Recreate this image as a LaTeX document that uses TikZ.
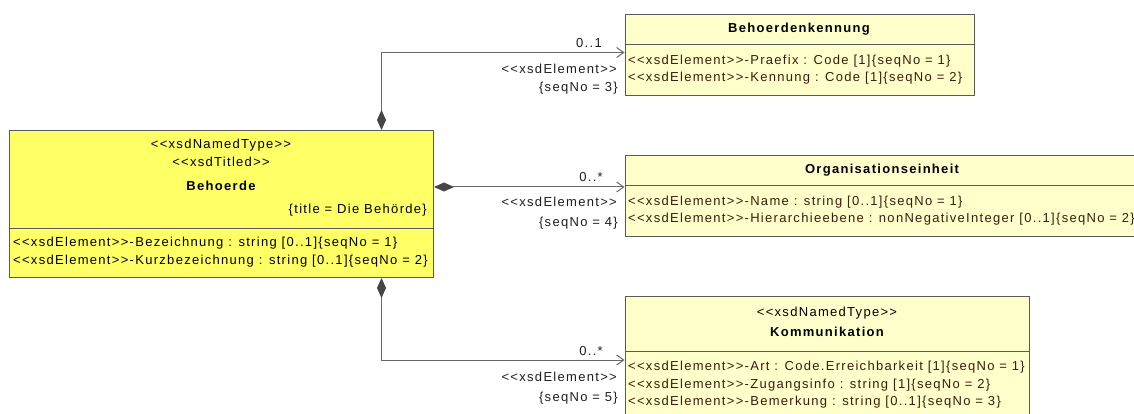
\documentclass[tikz,border=0pt]{standalone}
\usepackage{fontspec}
\setmainfont{Liberation Sans}[LetterSpace=10, Ligatures=TeXOff]
\usetikzlibrary{arrows.meta}
\definecolor{behfill}{RGB}{255,255,102}
\definecolor{palefill}{RGB}{255,255,204}
\definecolor{bordc}{RGB}{90,90,90}
\definecolor{linec}{RGB}{105,105,105}
\definecolor{diac}{RGB}{70,70,70}
\definecolor{attrc}{RGB}{60,28,10}
\definecolor{lblc}{RGB}{30,30,30}
\begin{document}
\begin{tikzpicture}[x=1pt,y=-1pt,
  umlbox/.style={draw=bordc, line width=1pt, inner sep=0pt, anchor=north west},
  txt/.style={font=\fontsize{13}{15}\selectfont, inner sep=0pt, text=black},
  attr/.style={txt, anchor=base west, text=attrc},
  battr/.style={txt, anchor=base west},
  lbl/.style={txt, anchor=base east, text=lblc},
  hdr/.style={txt, anchor=base},
  ttl/.style={txt, anchor=base, font=\fontsize{13}{15}\selectfont\bfseries},
  sep/.style={draw=bordc, line width=1pt},
  conn/.style={draw=linec, line width=1pt,
    arrows={Diamond[length=20pt,width=9pt,color=diac]-Straight Barb[length=7pt,width=10pt,color=linec]}}
]
\useasboundingbox (0,0) rectangle (1134,414);
\clip (0,0) rectangle (1134,414);

% Behoerde
\node[umlbox, fill=behfill, minimum width=424pt, minimum height=147pt] (beh) at (9,130) {};
\draw[sep] ([yshift=-98pt]beh.north west) -- ([yshift=-98pt]beh.north east);
\node[hdr] (behs1) at (221,148.5) {<<xsdNamedType>>};
\node[hdr] (behs2) at (221,167) {<<xsdTitled>>};
\node[ttl] (behn) at (221,190) {Behoerde};
\node[txt, anchor=base east] (beht) at (427,213.5) {\{title = Die Behörde\}};
\node[battr] (beha1) at (13,246.5) {<<xsdElement>>-Bezeichnung : string [0..1]\{seqNo = 1\}};
\node[battr] (beha2) at (13,264.5) {<<xsdElement>>-Kurzbezeichnung : string [0..1]\{seqNo = 2\}};

% Behoerdenkennung
\node[umlbox, fill=palefill, minimum width=349.5pt, minimum height=81pt] (bk) at (624.5,14) {};
\draw[sep] ([yshift=-31pt]bk.north west) -- ([yshift=-31pt]bk.north east);
\node[ttl] (bkn) at (799,33) {Behoerdenkennung};
\node[attr] (bka1) at (628,64.5) {<<xsdElement>>-Praefix : Code [1]\{seqNo = 1\}};
\node[attr] (bka2) at (628,81.5) {<<xsdElement>>-Kennung : Code [1]\{seqNo = 2\}};

% Organisationseinheit
\node[umlbox, fill=palefill, minimum width=515pt, minimum height=80.5pt] (org) at (624.5,155.5) {};
\draw[sep] ([yshift=-30.5pt]org.north west) -- ([yshift=-30.5pt]org.north east);
\node[ttl] (orgn) at (882,173.5) {Organisationseinheit};
\node[attr] (orga1) at (628,205.5) {<<xsdElement>>-Name : string [0..1]\{seqNo = 1\}};
\node[attr] (orga2) at (628,222.5) {<<xsdElement>>-Hierarchieebene : nonNegativeInteger [0..1]\{seqNo = 2\}};

% Kommunikation
\node[umlbox, fill=palefill, minimum width=404.5pt, minimum height=140pt] (kom) at (624.5,296) {};
\draw[sep] ([yshift=-55pt]kom.north west) -- ([yshift=-55pt]kom.north east);
\node[hdr] (koms) at (827,316) {<<xsdNamedType>>};
\node[ttl] (komn) at (827,336) {Kommunikation};
\node[attr] (koma1) at (628,370.5) {<<xsdElement>>-Art : Code.Erreichbarkeit [1]\{seqNo = 1\}};
\node[attr] (koma2) at (628,388) {<<xsdElement>>-Zugangsinfo : string [1]\{seqNo = 2\}};
\node[attr] (koma3) at (628,405.5) {<<xsdElement>>-Bemerkung : string [0..1]\{seqNo = 3\}};

% connectors
\coordinate (y1) at (0,52.5);
\coordinate (y2) at (0,187);
\coordinate (y3) at (0,360);
\draw[conn] ([xshift=160pt]beh.north) |- (bk.west |- y1);
\draw[conn] (beh.east |- y2) -- (org.west |- y2);
\draw[conn] ([xshift=160pt]beh.south) |- (kom.west |- y3);

% connector labels
\node[lbl] (m1) at (602,47.5) {0..1};
\node[lbl] (s1) at (617,73.5) {<<xsdElement>>};
\node[lbl] (q1) at (618,92) {\{seqNo = 3\}};
\node[lbl] (m2) at (603,182) {0..*};
\node[lbl] (s2) at (617,206.5) {<<xsdElement>>};
\node[lbl] (q2) at (618,226.5) {\{seqNo = 4\}};
\node[lbl] (m3) at (603,355) {0..*};
\node[lbl] (s3) at (617,381) {<<xsdElement>>};
\node[lbl] (q3) at (618,401) {\{seqNo = 5\}};
\end{tikzpicture}
\end{document}
